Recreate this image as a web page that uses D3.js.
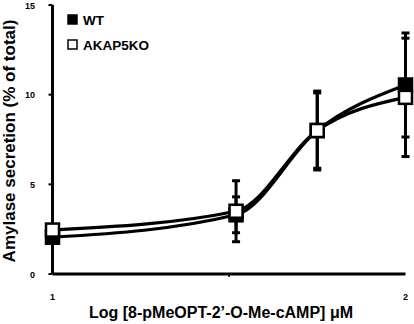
<!DOCTYPE html>
<html><head><meta charset="utf-8">
<script src="https://cdn.jsdelivr.net/npm/d3@7"></script>
<style>body{margin:0;background:#fff;}svg{display:block;font-family:"Liberation Sans",Arial,sans-serif;font-weight:bold;}</style>
</head><body><svg id="c" width="414" height="324"></svg>
<script>
const logConc = [1, 1.52, 1.75, 2];
const wtMean = [2.05, 3.3, 8.0, 10.54];
const wtErr  = [0, 1.0, 2.1, 2.9];
const koMean = [2.45, 3.5, 8.0, 9.85];
const koErr  = [0, 1.7, 2.2, 3.3];
const yTicks = [0, 5, 10, 15];
const xTicks = [1, 2];
const seriesNames = ["WT", "AKAP5KO"];

const svg = d3.select("#c");
const x = d3.scaleLinear().domain([1, 2]).range([52.5, 405.5]);
const y = d3.scaleLinear().domain([0, 15]).range([274, 5]);

// axes
svg.append("line").attr("x1", x(1)).attr("x2", x(1)).attr("y1", y(15)).attr("y2", y(0))
  .attr("stroke", "#000").attr("stroke-width", 3);
svg.append("line").attr("x1", x(1)).attr("x2", x(2)).attr("y1", y(0)).attr("y2", y(0))
  .attr("stroke", "#000").attr("stroke-width", 3);
yTicks.forEach(t => {
  svg.append("line").attr("x1", x(1) - 4).attr("x2", x(1)).attr("y1", y(t)).attr("y2", y(t))
    .attr("stroke", "#000").attr("stroke-width", 2);
  svg.append("text").attr("x", 35).attr("y", y(t) + 3.5).attr("text-anchor", "end")
    .attr("font-size", 9).text(t);
});
svg.append("line").attr("x1", x(1.5)).attr("x2", x(1.5)).attr("y1", y(0)).attr("y2", y(0) + 3)
  .attr("stroke", "#000").attr("stroke-width", 1.5);
xTicks.forEach(t => {
  svg.append("text").attr("x", x(t)).attr("y", 300).attr("text-anchor", "middle")
    .attr("font-size", 9).text(t);
});

// titles
svg.append("text").attr("x", 221).attr("y", 318).attr("text-anchor", "middle")
  .attr("font-size", 16).text("Log [8-pMeOPT-2\u2019-O-Me-cAMP] \u03bcM");
svg.append("text").attr("transform", "translate(15,141) rotate(-90)").attr("text-anchor", "middle")
  .attr("font-size", 17).text("Amylase secretion (% of total)");

function series(mean, err, fill) {
  const g = svg.append("g");
  const pts = logConc.map((c, i) => ({c, m: mean[i], e: err[i]}));
  pts.filter(d => d.e > 0).forEach(d => {
    g.append("line").attr("x1", x(d.c)).attr("x2", x(d.c)).attr("y1", y(d.m + d.e)).attr("y2", y(d.m - d.e))
      .attr("stroke", "#000").attr("stroke-width", 3);
    [d.m + d.e, d.m - d.e].forEach(v => {
      g.append("line").attr("x1", x(d.c) - 4).attr("x2", x(d.c) + 4).attr("y1", y(v)).attr("y2", y(v))
        .attr("stroke", "#000").attr("stroke-width", 3);
    });
  });
  const line = d3.line().x(d => x(d.c)).y(d => y(d.m)).curve(d3.curveMonotoneX);
  g.append("path").attr("d", line(pts)).attr("fill", "none").attr("stroke", "#000").attr("stroke-width", 3.2);
  return {g, pts, fill};
}
const wt = series(wtMean, wtErr, "#000");
const ko = series(koMean, koErr, "#fff");
[wt, ko].forEach(s => {
  s.g.selectAll("rect.m").data(s.pts).enter().append("rect")
    .attr("x", d => x(d.c) - 6.5).attr("y", d => y(d.m) - 6.5).attr("width", 13).attr("height", 13)
    .attr("fill", s.fill).attr("stroke", "#000").attr("stroke-width", 2.5);
});

// legend
const leg = svg.append("g");
[["#000", 15], ["#fff", 40]].forEach(([f, yy], i) => {
  leg.append("rect").attr("x", 68).attr("y", yy).attr("width", 9).attr("height", 9)
    .attr("fill", f).attr("stroke", "#000").attr("stroke-width", 1.5);
  leg.append("text").attr("x", 83).attr("y", yy + 10).attr("font-size", 13.5).text(seriesNames[i]);
});
</script></body></html>
